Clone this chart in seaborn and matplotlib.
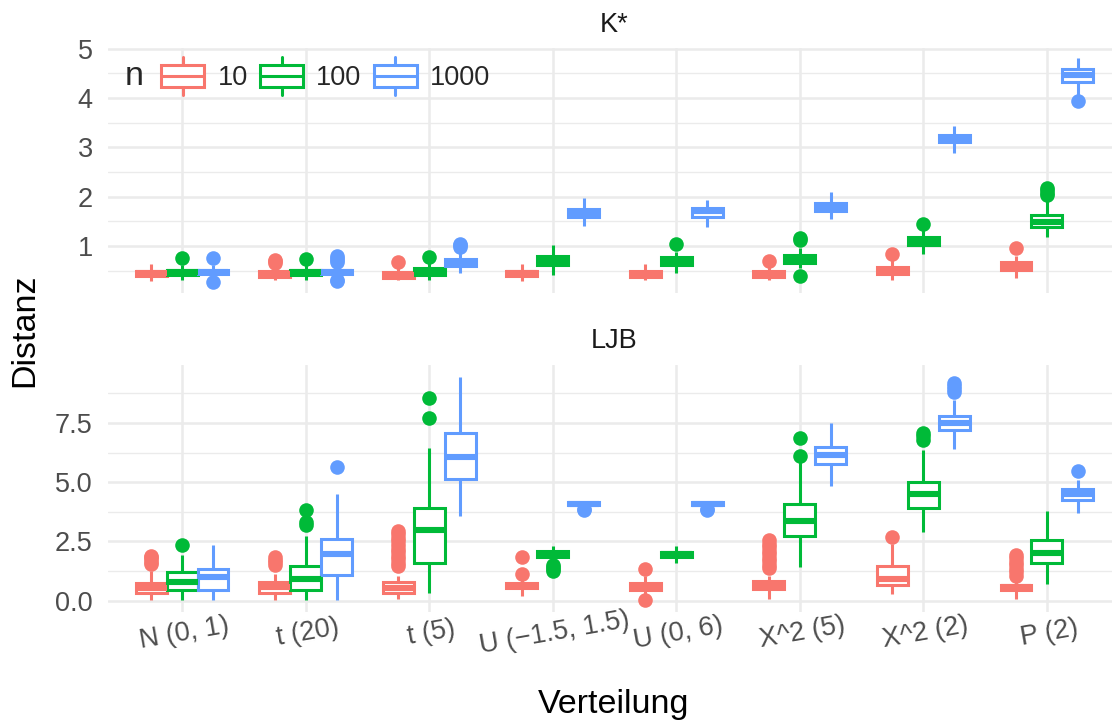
import matplotlib
matplotlib.use("Agg")
import matplotlib.pyplot as plt
import pandas as pd
import seaborn as sns
from matplotlib.legend_handler import HandlerBase
from matplotlib.lines import Line2D
from matplotlib.offsetbox import HPacker
from matplotlib.patches import Patch, Rectangle

sns.set_style("white")
plt.rcParams["font.family"] = ["Liberation Sans", "DejaVu Sans"]

# ---------------------------------------------------------------- data
distributions = ["N (0, 1)", "t (20)", "t (5)", "U (\u22121.5, 1.5)",
                 "U (0, 6)", "X^2 (5)", "X^2 (2)", "P (2)"]
n_levels = ["10", "100", "1000"]
n_colors = ["#F8766D", "#00BA38", "#619CFF"]
panels = ["K*", "LJB"]

# K* : box summaries per sample size (one entry per distribution)
kstar_low = {"10":   [0.29, 0.31, 0.31, 0.30, 0.31, 0.31, 0.32, 0.35],
             "100":  [0.32, 0.32, 0.31, 0.41, 0.46, 0.55, 0.84, 1.18],
             "1000": [0.34, 0.34, 0.46, 1.41, 1.39, 1.54, 2.88, 4.06]}
kstar_q1 = {"10":   [0.40, 0.38, 0.36, 0.39, 0.38, 0.38, 0.43, 0.51],
            "100":  [0.42, 0.42, 0.42, 0.62, 0.61, 0.66, 1.03, 1.39],
            "1000": [0.43, 0.44, 0.60, 1.59, 1.58, 1.72, 3.10, 4.33]}
kstar_med = {"10":   [0.45, 0.44, 0.42, 0.45, 0.44, 0.44, 0.49, 0.60],
             "100":  [0.47, 0.47, 0.49, 0.70, 0.70, 0.72, 1.10, 1.49],
             "1000": [0.48, 0.48, 0.66, 1.67, 1.71, 1.80, 3.17, 4.46]}
kstar_q3 = {"10":   [0.50, 0.49, 0.48, 0.50, 0.50, 0.50, 0.58, 0.67],
            "100":  [0.51, 0.51, 0.55, 0.79, 0.78, 0.82, 1.19, 1.62],
            "1000": [0.52, 0.52, 0.73, 1.75, 1.78, 1.88, 3.25, 4.58]}
kstar_high = {"10":   [0.64, 0.58, 0.56, 0.63, 0.63, 0.58, 0.72, 0.80],
              "100":  [0.62, 0.62, 0.65, 1.02, 0.88, 0.95, 1.32, 1.93],
              "1000": [0.62, 0.62, 0.88, 1.98, 1.93, 2.09, 3.43, 4.81]}
kstar_out = {"10":   [[], [0.66, 0.69, 0.72], [0.68], [], [], [0.70], [0.84], [0.95]],
             "100":  [[0.75], [0.74], [0.78], [], [1.05], [0.39, 1.13, 1.16],
                      [1.45], [2.03, 2.08, 2.13, 2.17]],
             "1000": [[0.28, 0.76], [0.29, 0.31, 0.68, 0.72, 0.76, 0.80],
                      [0.98, 1.02, 1.05], [], [], [], [], [3.94]]}

# LJB : box summaries per sample size
ljb_low = {"10":   [0.03, 0.03, 0.07, 0.20, 0.28, 0.07, 0.28, 0.09],
           "100":  [0.03, 0.03, 0.33, 1.75, 1.58, 1.44, 2.90, 0.71],
           "1000": [0.02, 0.03, 3.56, 3.95, 3.95, 4.83, 6.40, 3.72]}
ljb_q1 = {"10":   [0.33, 0.33, 0.33, 0.52, 0.47, 0.48, 0.68, 0.44],
          "100":  [0.47, 0.47, 1.60, 1.86, 1.85, 2.75, 3.93, 1.60],
          "1000": [0.44, 1.10, 5.13, 4.05, 4.05, 5.75, 7.22, 4.25]}
ljb_med = {"10":   [0.55, 0.56, 0.55, 0.62, 0.60, 0.64, 0.93, 0.58],
           "100":  [0.80, 0.92, 3.00, 1.97, 1.96, 3.35, 4.52, 2.02],
           "1000": [0.99, 1.98, 6.07, 4.10, 4.10, 6.14, 7.49, 4.52]}
ljb_q3 = {"10":   [0.74, 0.80, 0.78, 0.74, 0.74, 0.83, 1.48, 0.68],
          "100":  [1.19, 1.48, 3.91, 2.09, 2.06, 4.08, 5.00, 2.57],
          "1000": [1.33, 2.60, 7.09, 4.15, 4.15, 6.48, 7.78, 4.72]}
ljb_high = {"10":   [1.27, 1.14, 1.06, 0.95, 1.06, 1.06, 2.40, 0.95],
            "100":  [1.91, 2.73, 6.45, 2.30, 2.30, 5.86, 6.38, 3.78],
            "1000": [2.37, 4.52, 9.46, 4.18, 4.18, 7.51, 8.47, 5.08]}
ljb_out = {"10":   [[1.55, 1.65, 1.75, 1.85, 1.90], [1.52, 1.62, 1.72, 1.84],
                    [1.47, 1.60, 1.75, 1.90, 2.05, 2.20, 2.35, 2.50, 2.65, 2.80, 2.95],
                    [1.12, 1.84], [0.03, 1.34],
                    [1.38, 1.52, 1.66, 1.80, 1.95, 2.10, 2.25, 2.40, 2.54],
                    [2.70], [1.06, 1.20, 1.35, 1.50, 1.65, 1.80, 1.91]],
           "100":  [[2.33], [3.20, 3.30, 3.81], [7.70, 8.57], [1.27, 1.35, 1.42, 1.50],
                    [], [6.10, 6.88], [6.80, 6.95, 7.09], []],
           "1000": [[], [5.65], [], [3.84, 3.88], [3.84, 3.88], [],
                    [8.83, 8.95, 9.07, 9.18], [5.47]]}

summaries = {
    "K*": (kstar_low, kstar_q1, kstar_med, kstar_q3, kstar_high, kstar_out),
    "LJB": (ljb_low, ljb_q1, ljb_med, ljb_q3, ljb_high, ljb_out),
}


def box_sample(low, q1, med, q3, high, outliers, reps=30):
    """Sample whose quartiles, whisker ends and outliers equal the summary."""
    return [low] + [q1] * reps + [med] * reps + [q3] * reps + [high] + list(outliers)


rows = []
for panel in panels:
    low, q1, med, q3, high, out = summaries[panel]
    for n in n_levels:
        for i, dist in enumerate(distributions):
            for v in box_sample(low[n][i], q1[n][i], med[n][i], q3[n][i],
                                high[n][i], out[n][i]):
                rows.append((panel, dist, n, v))
df = pd.DataFrame(rows, columns=["stat", "Verteilung", "n", "Distanz"])

LW = 2.2        # box / whisker line width (pt)
MED_LW = 4.4    # median line width (pt)
DOT = 10.5      # outlier marker size (pt)


# ---------------------------------------------------------------- legend glyph
class BoxGlyph(HandlerBase):
    def create_artists(self, legend, orig_handle, xdescent, ydescent,
                       width, height, fontsize, trans):
        c = orig_handle.get_edgecolor()
        x0, y0 = -xdescent, -ydescent
        bh = 0.6 * height
        by = y0 + (height - bh) / 2
        xm = x0 + width / 2
        return [
            Line2D([xm, xm], [y0, by], color=c, lw=LW, transform=trans),
            Line2D([xm, xm], [by + bh, y0 + height], color=c, lw=LW, transform=trans),
            Rectangle((x0, by), width, bh, facecolor="white", edgecolor=c,
                      lw=LW, transform=trans),
            Line2D([x0, x0 + width], [by + bh / 2] * 2, color=c, lw=LW,
                   solid_capstyle="butt", transform=trans),
        ]


# ---------------------------------------------------------------- figure
W, H = 1112, 723
fig = plt.figure(figsize=(W / 100, H / 100), dpi=100)
fig.patch.set_facecolor("white")
left, right = 108 / W, 1121 / W
ax_top = fig.add_axes([left, 1 - 293 / H, right - left, (293 - 48) / H])
ax_bot = fig.add_axes([left, 1 - 612 / H, right - left, (612 - 365) / H])

grid_col = "#EBEBEB"
tick_col = "#4D4D4D"
small_fs = 19.5
big_fs = 24.5

limits = {"K*": (0.047, 5.016), "LJB": (-0.48, 9.95)}
majors = {"K*": [1, 2, 3, 4, 5], "LJB": [0, 2.5, 5, 7.5]}
major_labels = {"K*": ["1", "2", "3", "4", "5"], "LJB": ["0.0", "2.5", "5.0", "7.5"]}
minors = {"K*": [0.5, 1.5, 2.5, 3.5, 4.5], "LJB": [1.25, 3.75, 6.25, 8.75]}
title_pad = {"K*": 11.5, "LJB": 12}

for ax, panel in zip([ax_top, ax_bot], panels):
    sub = df[df["stat"] == panel]
    for n, c in zip(n_levels, n_colors):
        sns.boxplot(
            data=sub[sub["n"] == n], x="Verteilung", y="Distanz", hue="n",
            order=distributions, hue_order=n_levels,
            palette={k: "white" for k in n_levels}, saturation=1,
            dodge=True, width=0.75, gap=0, whis=1.5,
            linecolor=c, linewidth=LW, fliersize=DOT, legend=False, ax=ax,
            medianprops=dict(color=c, linewidth=MED_LW, solid_capstyle="butt"),
            whiskerprops=dict(color=c, linewidth=LW, solid_capstyle="butt"),
            capprops=dict(linewidth=0),
            flierprops=dict(marker="o", markerfacecolor=c, markeredgecolor=c,
                            markeredgewidth=0, markersize=DOT),
        )
    ax.set_xlim(-0.6, len(distributions) - 0.4)
    ax.set_ylim(*limits[panel])
    ax.set_yticks(majors[panel])
    ax.set_yticklabels(major_labels[panel])
    ax.set_yticks(minors[panel], minor=True)
    ax.set_axisbelow(True)
    ax.grid(True, which="major", axis="both", color=grid_col, lw=1.8)
    ax.grid(True, which="minor", axis="y", color=grid_col, lw=0.95)
    ax.tick_params(which="both", length=0)
    ax.tick_params(axis="y", labelsize=small_fs, labelcolor=tick_col, pad=11)
    for s in ax.spines.values():
        s.set_visible(False)
    ax.set_xlabel("")
    ax.set_ylabel("")
    ax.set_facecolor("white")
    ax.set_title(panel, fontsize=small_fs, color="#1A1A1A", pad=title_pad[panel])

ax_top.tick_params(axis="x", labelbottom=False)
ax_bot.tick_params(axis="x", labelsize=small_fs, labelcolor=tick_col, pad=6)
for lab in ax_bot.get_xticklabels():
    lab.set_rotation(10)
    lab.set_ha("center")
    lab.set_va("top")
    lab.set_rotation_mode("anchor")

fig.text(25 / W, 1 - 330 / H, "Distanz", rotation=90, ha="center", va="center",
         fontsize=big_fs, color="black")
fig.text(614 / W, 1 - 705 / H, "Verteilung", ha="center", va="center",
         fontsize=big_fs, color="black")

handles = [Patch(facecolor="white", edgecolor=c, label=n)
           for n, c in zip(n_levels, n_colors)]
leg = ax_top.legend(
    handles=handles, title="n", loc="center left", bbox_to_anchor=(0.012, 0.885),
    ncol=3, frameon=False, fontsize=small_fs, title_fontsize=big_fs,
    handler_map={Patch: BoxGlyph()}, handlelength=1.6, handleheight=1.75,
    handletextpad=0.48, columnspacing=0.45, borderpad=0, borderaxespad=0,
)
# put the legend title to the left of the keys
vbox = leg.get_children()[0]
title_box, key_box = vbox.get_children()
vbox._children = [key_box]
key_box._children.insert(0, HPacker(children=[title_box], pad=3.5, sep=0))
key_box.align = "center"

fig.savefig("out.png", dpi=100, facecolor="white")
